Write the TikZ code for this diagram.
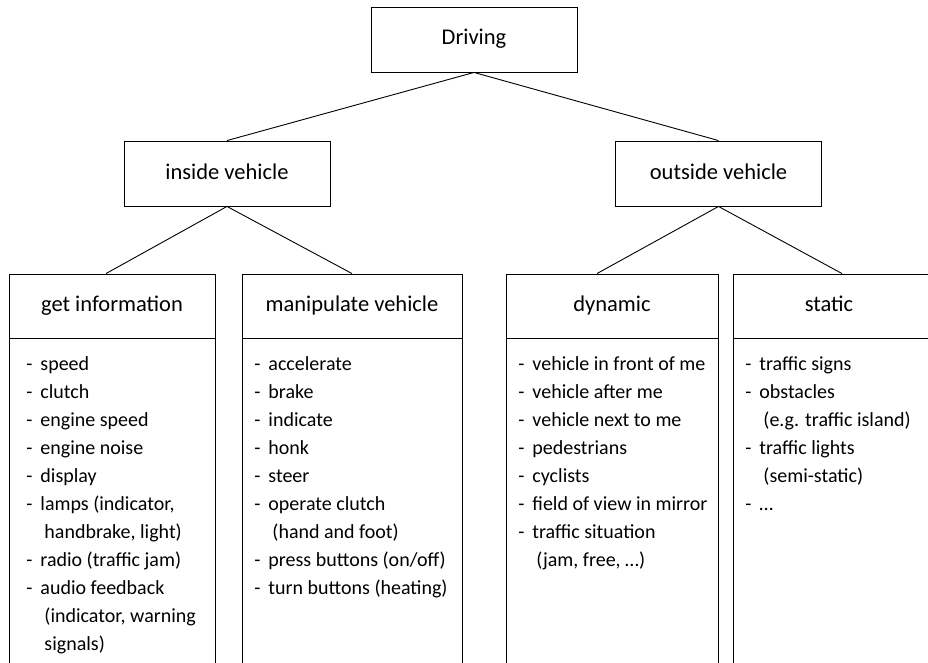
\documentclass[tikz,border=0pt]{standalone}
\usepackage{fontspec}
\setmainfont{Carlito}
\usetikzlibrary{positioning}
\newcommand{\itm}[1]{\makebox[14pt][l]{-}#1}
\newcommand{\cnt}[1]{\hspace*{18pt}#1}

\begin{document}
\begin{tikzpicture}[
x=1pt, y=-1pt,
line width=0.9pt,
every node/.style={font=\fontsize{22.5}{28}\selectfont},
box/.style={draw, rectangle, inner sep=0, minimum width=206pt, minimum height=65pt,
  text height=16pt, text depth=5pt},
head/.style={draw, rectangle, inner sep=0, minimum height=64pt,
  text height=16pt, text depth=5pt},
body/.style={draw, rectangle, inner sep=0, minimum height=400pt, below=0pt of #1},
items/.style={align=left, anchor=north west, inner sep=0, font=\fontsize{20}{28}\selectfont}
]
\useasboundingbox (0,0) rectangle (928,663);
\clip (0,0) rectangle (928,663);
% Upper levels
\node[box] (drive) at (474,39.5) {Driving};
\node[box] (inside) at (227,173.5) {inside vehicle};
\node[box] (outside) at (718.5,173.5) {outside vehicle};
% Column heads
\node[head, minimum width=206pt] (info) at (112,306) {get information};
\node[head, minimum width=220pt] (manip) at (352,306) {manipulate vehicle};
\node[head, minimum width=212pt] (dyn) at (612,306) {dynamic};
\node[head, minimum width=206pt] (stat) at (836,306) {static\hspace*{14pt}};
% Column bodies
\node[body=info, minimum width=206pt] (infobody) {};
\node[body=manip, minimum width=220pt] (manipbody) {};
\node[body=dyn, minimum width=212pt] (dynbody) {};
\node[body=stat, minimum width=206pt] (statbody) {};
% Lists
\node[items] (infolist) at (26,350) {\strut\itm{speed}\\ \itm{clutch}\\ \itm{engine speed}\\
  \itm{engine noise}\\ \itm{display}\\ \itm{lamps (indicator,}\\ \cnt{handbrake, light)}\\
  \itm{radio (traffic jam)}\\ \itm{audio feedback}\\ \cnt{(indicator, warning}\\ \cnt{signals)}};
\node[items] (maniplist) at (254,350) {\strut\itm{accelerate}\\ \itm{brake}\\ \itm{indicate}\\
  \itm{honk}\\ \itm{steer}\\ \itm{operate clutch}\\ \cnt{(hand and foot)}\\
  \itm{press buttons (on/off)}\\ \itm{turn buttons (heating)}};
\node[items] (dynlist) at (518,350) {\strut\itm{vehicle in front of me}\\ \itm{vehicle after me}\\
  \itm{vehicle next to me}\\ \itm{pedestrians}\\ \itm{cyclists}\\ \itm{field of view in mirror}\\
  \itm{traffic situation}\\ \cnt{(jam, free, …)}};
\node[items] (statlist) at (745,350) {\strut\itm{traffic signs}\\ \itm{obstacles}\\
  \cnt{(e.g. traffic island)}\\ \itm{traffic lights}\\ \cnt{(semi-static)}\\ \itm{…}};
% Connectors
\draw (drive.south) -- (inside.north);
\draw (drive.south) -- (outside.north);
\draw (inside.south) -- ([xshift=-6pt]info.north);
\draw (inside.south) -- (manip.north);
\draw (outside.south) -- ([xshift=-15pt]dyn.north);
\draw (outside.south) -- ([xshift=6pt]stat.north);
\end{tikzpicture}
\end{document}
